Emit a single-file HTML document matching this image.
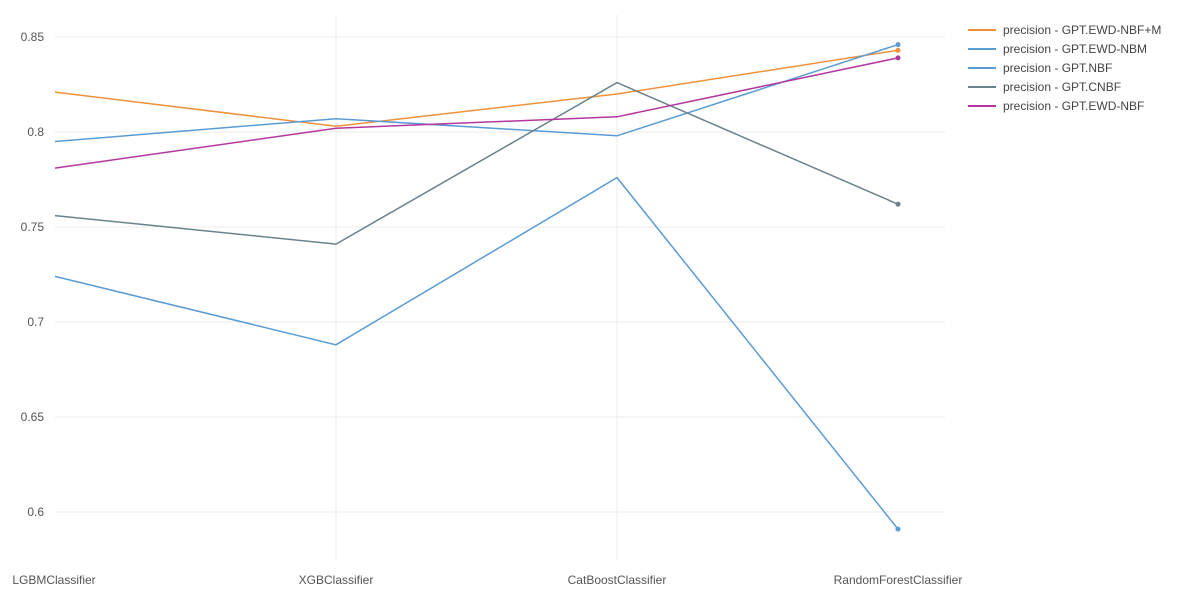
<!DOCTYPE html>
<html><head><meta charset="utf-8"><style>
body{margin:0;background:#fff;font-family:"Liberation Sans",sans-serif;}
svg text{font-family:"Liberation Sans",sans-serif;fill:#555;font-size:12px;}
</style></head><body>
<svg id="chart" width="1200" height="600"></svg>
<script>
const categories=["LGBMClassifier","XGBClassifier","CatBoostClassifier","RandomForestClassifier"];
const seriesNames=["precision - GPT.EWD-NBF+M","precision - GPT.EWD-NBM","precision - GPT.NBF","precision - GPT.CNBF","precision - GPT.EWD-NBF"];
const sEwdNbfM=[0.821,0.803,0.820,0.843];
const sEwdNbm=[0.795,0.807,0.798,0.846];
const sNbf=[0.724,0.688,0.776,0.591];
const sCnbf=[0.756,0.741,0.826,0.762];
const sEwdNbf=[0.781,0.802,0.808,0.839];
const yTicks=[0.6,0.65,0.7,0.75,0.8,0.85];
const yTickLabels=["0.6","0.65","0.7","0.75","0.8","0.85"];
const colors=["#f0913a","#5a9bd4","#5a9bd4","#6b8189","#b4379f"];
const allSeries=[sEwdNbfM,sEwdNbm,sNbf,sCnbf,sEwdNbf];
const NS="http://www.w3.org/2000/svg";
const svg=document.getElementById("chart");
const x=i=>55+i*281;
const y=v=>37+(0.85-v)*1900;
function mk(t,a,p){const e=document.createElementNS(NS,t);for(const k in a)e.setAttribute(k,a[k]);(p||svg).appendChild(e);return e;}
yTicks.forEach((t,i)=>{
 const g=mk("line",{x1:55,x2:945,y1:y(t),y2:y(t),stroke:"#ebebeb"});
 
 
 const l=mk("text",{x:44,y:y(t)+4,"text-anchor":"end"});l.textContent=yTickLabels[i];
 
 
});
categories.forEach((c,i)=>{
 if(i>0&&i<3){const g=mk("line",{x1:x(i),x2:x(i),y1:15,y2:560,stroke:"#ebebeb"});
 
 }
 const l=mk("text",{x:x(i)+(i==0?-1:0),y:584,"text-anchor":"middle"});l.textContent=c;
 
 
});
allSeries.forEach((s,k)=>{
 const p=mk("polyline",{points:s.map((v,i)=>x(i)+","+y(v)).join(" "),fill:"none",stroke:colors[k],"stroke-width":1.5});
 
 
 const d=mk("circle",{cx:x(3),cy:y(s[3]),r:2.5,fill:colors[k]});
 
 
 const ly=30+k*19;
 const ll=mk("line",{x1:968,x2:996,y1:ly,y2:ly,stroke:colors[k],"stroke-width":2});
 
 
 const lt=mk("text",{x:1003,y:ly+4,style:"fill:#444"});lt.textContent=seriesNames[k];
 
 
});
</script>
</body></html>
